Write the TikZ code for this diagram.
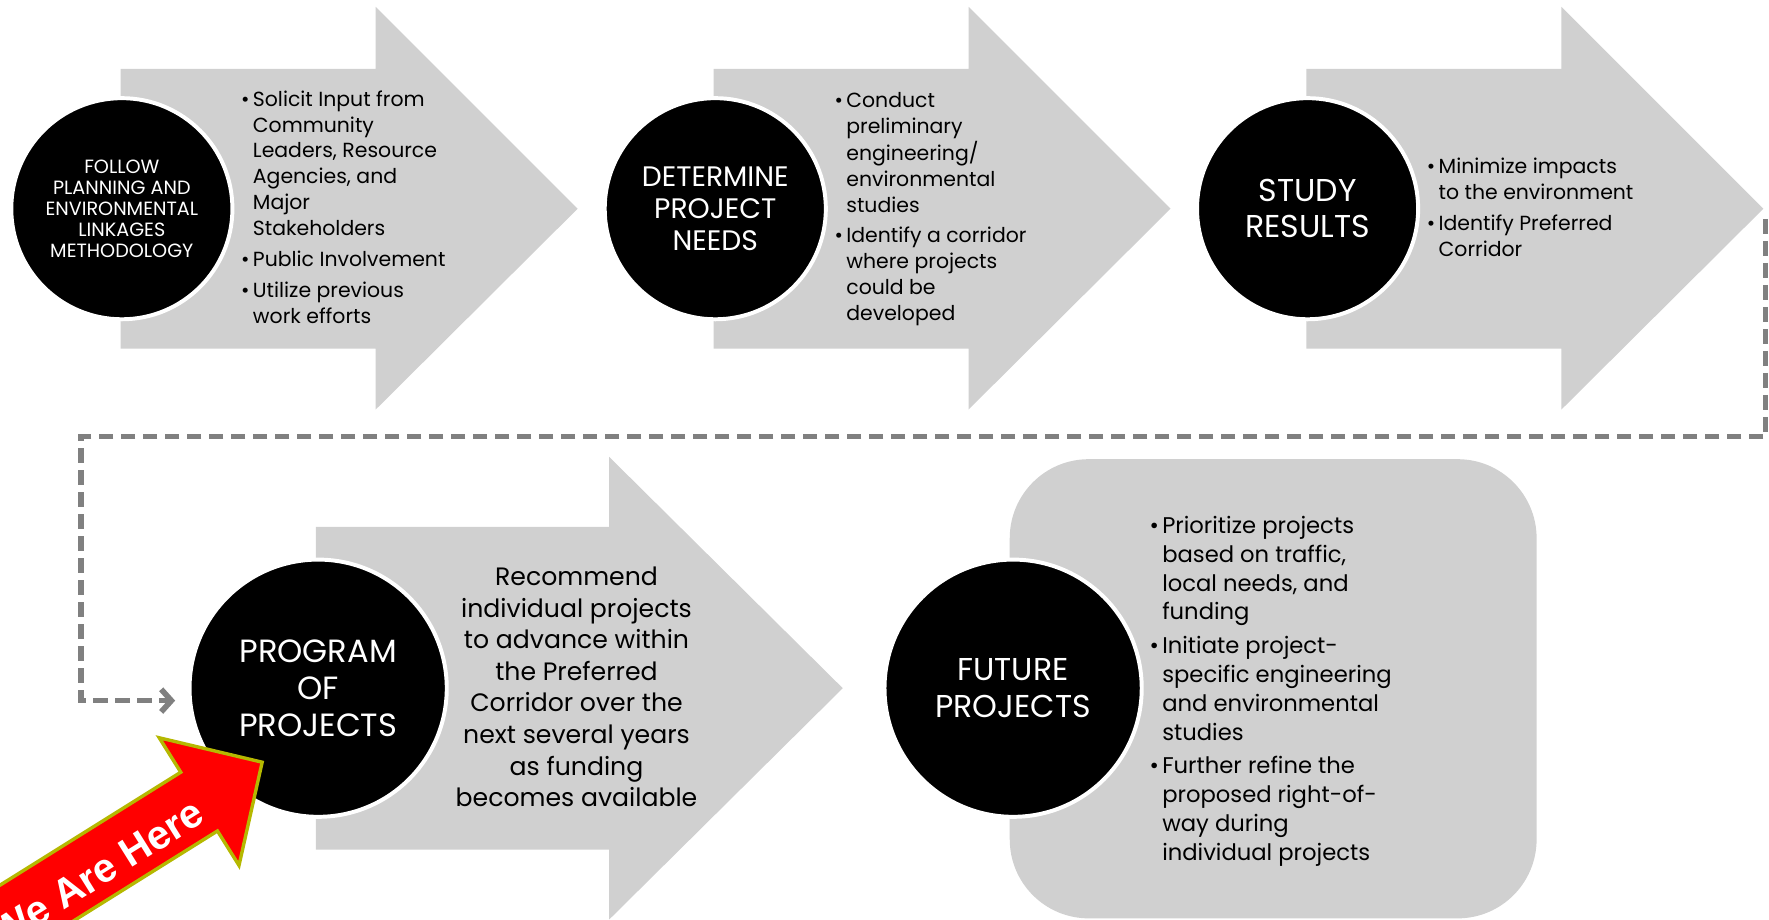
\documentclass[tikz,border=0pt]{standalone}
\usepackage{fontspec}
\setmainfont{Poppins}
\newfontfamily\redfont{Liberation Sans}
\usetikzlibrary{arrows.meta}
\definecolor{panel}{HTML}{D0D0D0}
\definecolor{conn}{HTML}{808080}
\definecolor{hereRed}{HTML}{FF0000}
\definecolor{hereEdge}{HTML}{B5B800}
\newcommand{\setfs}[2]{\fontsize{#1}{#2}\selectfont}
\newcommand{\bul}{\llap{\textbullet\hspace{3pt}}}
\newcommand{\lefttab}[1]{\begin{tabular}[t]{@{}l@{}}#1\end{tabular}}
\newcommand{\centtab}[1]{\begin{tabular}[t]{@{}c@{}}#1\end{tabular}}
\tikzset{
 panelshape/.style={fill=panel, draw=none},
 stepcircle/.style={circle, fill=black, draw=white, line width=3.5pt, text=white, align=center, inner sep=0pt},
 bullettext/.style={anchor=base west, inner sep=0pt, text=black},
 centertext/.style={anchor=base, inner sep=0pt, text=black},
 dashconn/.style={draw=conn, line width=5pt, dash pattern=on 13pt off 6.5pt, -{Straight Barb[length=9pt,width=20pt]}},
}
\begin{document}
\begin{tikzpicture}[x=1pt,y=-1pt]
\useasboundingbox (0,0) rectangle (1568,815);
\clip (0,0) rectangle (1568,815);
% top row arrows
\foreach \dx in {0,525.5,1051}{
  \fill[panelshape, xshift=\dx pt] (107,61) -- (333,61) -- (333,6) -- (512,185) -- (333,363) -- (333,309) -- (107,309) -- cycle;
}
% bottom arrow
\fill[panelshape] (280,467) -- (540,467) -- (540,405) -- (747,610) -- (540,815) -- (540,753) -- (280,753) -- cycle;
% future panel
\fill[panelshape, rounded corners=70pt] (895,407) rectangle (1362,814);
% dashed connector
\coordinate (dashStart) at (1565,194);
% circles
\node[stepcircle, minimum size=196pt, font=\setfs{17}{18.5}] (c1) at (108,185) {FOLLOW\\PLANNING AND\\ENVIRONMENTAL\\LINKAGES\\METHODOLOGY};
\node[stepcircle, minimum size=196pt, font=\setfs{25}{28}] (c2) at (634,185) {DETERMINE\\PROJECT\\NEEDS};
\node[stepcircle, minimum size=196pt, font=\setfs{28}{32}] (c3) at (1159,185) {STUDY\\RESULTS};
\node[stepcircle, minimum size=228pt, font=\setfs{28.5}{33}] (c4) at (282,610) {PROGRAM\\OF\\PROJECTS};
\node[stepcircle, minimum size=228pt, font=\setfs{28}{33}] (c5) at (898,610) {FUTURE\\PROJECTS};
\draw[dashconn] (dashStart) |- (72,387) |- ([xshift=-11pt,yshift=-11pt]c4.west);
% texts
\node[bullettext, font=\setfs{18.1}{23}] (t1) at (224,94) {\lefttab{\bul Solicit Input from\\Community\\Leaders, Resource\\Agencies, and\\Major\\Stakeholders\\[4.5pt]\bul Public Involvement\\[4.5pt]\bul Utilize previous\\work efforts}};
\node[bullettext, font=\setfs{18.1}{23}] (t2) at (750,95) {\lefttab{\bul Conduct\\preliminary\\engineering/\\environmental\\studies\\[4pt]\bul Identify a corridor\\where projects\\could be\\developed}};
\node[bullettext, font=\setfs{18.1}{23}] (t3) at (1275,154) {\lefttab{\bul Minimize impacts\\to the environment\\[4pt]\bul Identify Preferred\\Corridor}};
\node[centertext, font=\setfs{22.3}{28}] (t4) at (511,519) {\centtab{Recommend\\individual projects\\to advance within\\the Preferred\\Corridor over the\\next several years\\as funding\\becomes available}};
\node[bullettext, font=\setfs{20.1}{25.5}] (t5) at (1030,473) {\lefttab{\bul Prioritize projects\\based on traffic,\\local needs, and\\funding\\[4.5pt]\bul Initiate project-\\specific engineering\\and environmental\\studies\\[4.5pt]\bul Further refine the\\proposed right-of-\\way during\\individual projects}};
% you are here arrow
\begin{scope}[shift={(176.5,710.5)}, rotate=32]
 \draw[draw=hereEdge, fill=hereRed, line width=3pt, line join=miter] (65.9,0) -- (0,-66.7) -- (0,-30.7) -- (-400,-30.7) -- (-400,30.7) -- (0,30.7) -- (0,66.7) -- cycle;
 \node[rotate=32, text=white, font=\redfont\bfseries\setfs{36}{36}, anchor=east, inner sep=0pt] (here) at (-3,6) {We Are Here};
\end{scope}
\end{tikzpicture}
\end{document}
